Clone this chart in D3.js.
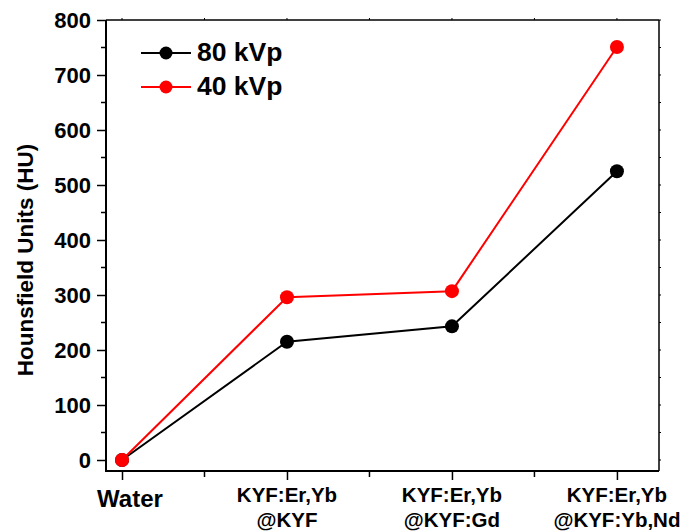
<!DOCTYPE html>
<html>
<head>
<meta charset="utf-8">
<script src="https://cdn.jsdelivr.net/npm/d3@7"></script>
<style>
  html, body { margin: 0; padding: 0; background: #fff; }
  svg { display: block; font-family: "Liberation Sans", Arial, sans-serif; font-weight: bold; }
</style>
</head>
<body>
<svg id="chart" width="685" height="532"></svg>
<script>
// Sample categories (two-line labels) and CT numbers per tube voltage
const categories = [
  ["Water"],
  ["KYF:Er,Yb", "@KYF"],
  ["KYF:Er,Yb", "@KYF:Gd"],
  ["KYF:Er,Yb", "@KYF:Yb,Nd"]
];
const hu80 = [0, 215, 243, 525];
const hu40 = [0, 296, 307, 751];
const seriesNames = ["80 kVp", "40 kVp"];
const seriesColors = ["#000000", "#ff0000"];
const yTicks = [0, 100, 200, 300, 400, 500, 600, 700, 800];

const svg = d3.select("#chart");
const plot = { left: 106, right: 659, top: 20, bottom: 471 };

const x = d3.scaleLinear().domain([-0.097, 3.255]).range([plot.left, plot.right]);
const y = d3.scaleLinear().domain([0, 800]).range([460, 20]);

// frame: top and right edges
svg.append("line").attr("x1", plot.left).attr("x2", plot.right)
  .attr("y1", plot.top).attr("y2", plot.top).attr("stroke", "#000").attr("stroke-width", 1.5);
svg.append("line").attr("x1", plot.right).attr("x2", plot.right)
  .attr("y1", plot.top).attr("y2", plot.bottom).attr("stroke", "#000").attr("stroke-width", 1.5);

// tiny mirrored ticks on the top and right edges
const halfSteps = d3.range(0, 801, 50);
svg.append("g").selectAll("line").data(halfSteps).join("line")
  .attr("x1", plot.right).attr("x2", plot.right + 2)
  .attr("y1", d => y(d)).attr("y2", d => y(d))
  .attr("stroke", "#000").attr("stroke-width", 1);
const xHalf = d3.range(0, 3.01, 0.5);
svg.append("g").selectAll("line").data(xHalf).join("line")
  .attr("x1", d => x(d)).attr("x2", d => x(d))
  .attr("y1", plot.top).attr("y2", plot.top - 2)
  .attr("stroke", "#000").attr("stroke-width", 1);

// left axis
const yAxis = svg.append("g").attr("transform", `translate(${plot.left},0)`)
  .call(d3.axisLeft(y).tickValues(yTicks).tickSize(9).tickPadding(6).tickFormat(d3.format("d")));
yAxis.select(".domain").attr("d", `M0,${plot.bottom}V${plot.top}`).attr("stroke-width", 2);
yAxis.selectAll(".tick line").attr("stroke-width", 1.5);
yAxis.selectAll(".tick text").attr("font-size", 22).attr("font-family", "Liberation Sans, Arial, sans-serif")
  .attr("font-weight", "bold").attr("fill", "#000");
// minor ticks on left axis
svg.append("g").selectAll("line").data(d3.range(50, 800, 100)).join("line")
  .attr("x1", plot.left - 5).attr("x2", plot.left)
  .attr("y1", d => y(d)).attr("y2", d => y(d))
  .attr("stroke", "#000").attr("stroke-width", 1.5);

// bottom axis
const xAxis = svg.append("g").attr("transform", `translate(0,${plot.bottom})`)
  .call(d3.axisBottom(x).tickValues(d3.range(categories.length)).tickSize(9).tickFormat(""));
xAxis.select(".domain").attr("d", `M${plot.left - 1},0H${plot.right}`).attr("stroke-width", 2);
xAxis.selectAll(".tick line").attr("stroke-width", 1.5);
svg.append("g").selectAll("line").data([0.5, 1.5, 2.5]).join("line")
  .attr("x1", d => x(d)).attr("x2", d => x(d))
  .attr("y1", plot.bottom).attr("y2", plot.bottom + 6)
  .attr("stroke", "#000").attr("stroke-width", 1.5);

// category labels
const labels = svg.append("g").attr("font-size", 20.5).attr("text-anchor", "middle").attr("fill", "#000");
categories.forEach((lines, i) => {
  const t = labels.append("text").attr("x", x(i));
  if (lines.length === 1) {
    t.attr("x", x(i) + 8).attr("y", 507).attr("font-size", 24).text(lines[0]);
  } else {
    lines.forEach((s, k) => t.append("tspan").attr("x", x(i)).attr("y", 501.5 + k * 25).text(s));
  }
});

// y-axis title
svg.append("text")
  .attr("transform", "translate(32.5,260) rotate(-90)")
  .attr("text-anchor", "middle").attr("font-size", 22.5).attr("fill", "#000")
  .text("Hounsfield Units (HU)");

// series lines and markers
const line = d3.line().x((d, i) => x(i)).y(d => y(d));
[hu80, hu40].forEach((vals, s) => {
  svg.append("path").datum(vals).attr("d", line)
    .attr("fill", "none").attr("stroke", seriesColors[s]).attr("stroke-width", 2);
  svg.append("g").selectAll("circle").data(vals).join("circle")
    .attr("cx", (d, i) => x(i)).attr("cy", d => y(d)).attr("r", 7)
    .attr("fill", seriesColors[s]);
});

// legend
const legend = svg.append("g");
seriesNames.forEach((name, s) => {
  const ly = 53 + s * 34;
  legend.append("line").attr("x1", 141).attr("x2", 191).attr("y1", ly).attr("y2", ly)
    .attr("stroke", seriesColors[s]).attr("stroke-width", 2);
  legend.append("circle").attr("cx", 166).attr("cy", ly).attr("r", 6.5).attr("fill", seriesColors[s]);
  legend.append("text").attr("x", 197).attr("y", ly + 7.5).attr("font-size", 26.5).attr("fill", "#000").text(name);
});
</script>
</body>
</html>
